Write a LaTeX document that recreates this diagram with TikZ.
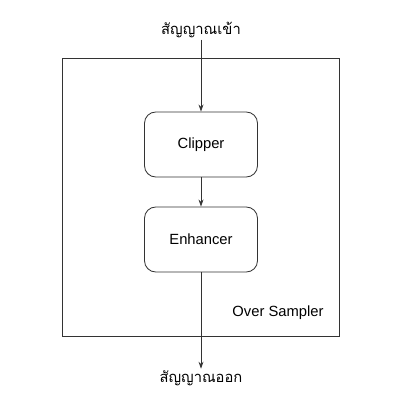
\documentclass[tikz,border=0pt]{standalone}
\usepackage{fontspec}
\setmainfont{Liberation Sans}
\newfontfamily\thaifont[Script=Thai]{Loma}
\usetikzlibrary{arrows.meta,positioning}
\definecolor{LineGray}{HTML}{333333}
\tikzset{
    % Processing block
    blocknode/.style={
        draw=LineGray,
        fill=white,
        rounded corners=8pt,
        line width=0.6pt,
        minimum width=2.825cm,
        minimum height=1.625cm,
        align=center,
        font=\fontsize{10.5}{12}\selectfont
    },
    % Outer system box
    systembox/.style={
        draw=LineGray,
        line width=0.6pt,
        minimum width=6.925cm,
        minimum height=6.95cm
    },
    % Signal text
    signode/.style={
        font=\thaifont\fontsize{10.5}{13}\selectfont,
        inner sep=1pt
    },
    % Arrow style
    myarrow/.style={
        -{Stealth[length=5pt,width=3.5pt]},
        line width=0.6pt,
        draw=LineGray
    }
}
\begin{document}
\begin{tikzpicture}
    \useasboundingbox (0,0) rectangle (10,10);

    % Outer box
    \node[systembox] (sampler) at (5.0125,5.075) {};
    \node[font=\fontsize{10.5}{12}\selectfont] (samplerlabel) at (6.95,2.175) {Over Sampler};

    % Blocks
    \node[blocknode] (clipper) at (5.025,6.3875) {Clipper};
    \node[blocknode] (enhancer) at (5.025,4.0125) {Enhancer};

    % Signals
    \node[signode] (sigin) at (5.025,9.25) {สัญญาณเข้า};
    \node[signode] (sigout) at (5.025,0.55) {สัญญาณออก};

    % Arrows
    \draw[myarrow] (sigin) -- (clipper);
    \draw[myarrow] (clipper) -- (enhancer);
    \draw[myarrow] (enhancer) -- (sigout);
\end{tikzpicture}
\end{document}
